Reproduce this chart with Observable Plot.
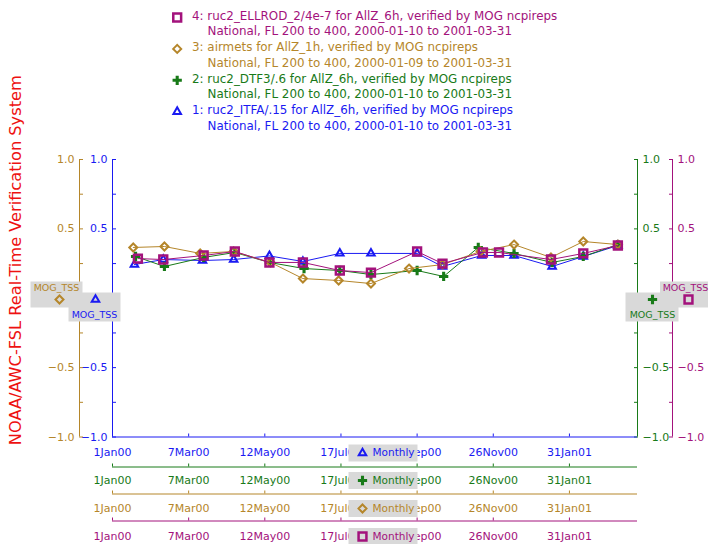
<!DOCTYPE html>
<html>
<head>
<meta charset="utf-8">
<script src="https://cdn.jsdelivr.net/npm/d3@7"></script>
<script src="https://cdn.jsdelivr.net/npm/@observablehq/plot@0.6"></script>
<style>
  html, body { margin: 0; padding: 0; background: #fff; }
  svg { display: block; }
</style>
</head>
<body>
<div id="chart"></div>
<script>
// Monthly MOG true skill statistic for four turbulence products, FL 200–400
const itfaDates = ["2000-01-20","2000-02-14","2000-03-19","2000-04-15","2000-05-16","2000-06-14","2000-07-16","2000-08-12","2000-09-21","2000-10-13","2000-11-16","2000-12-14","2001-01-16","2001-02-12","2001-03-14"];
const itfaTss   = [0.243,0.279,0.272,0.279,0.305,0.265,0.323,0.323,0.323,0.229,0.308,0.308,0.229,0.301,0.380];

const dtfDates  = ["2000-01-21","2000-02-15","2000-03-20","2000-04-16","2000-05-16","2000-06-15","2000-07-16","2000-08-12","2000-09-21","2000-10-14","2000-11-13","2000-12-14","2001-01-16","2001-02-12","2001-03-14"];
const dtfTss    = [0.301,0.229,0.294,0.330,0.258,0.214,0.200,0.171,0.200,0.157,0.366,0.323,0.258,0.301,0.387];

const airmetDates = ["2000-01-19","2000-02-15","2000-03-17","2000-04-15","2000-05-17","2000-06-14","2000-07-15","2000-08-12","2000-09-14","2000-10-13","2000-11-15","2000-12-14","2001-01-15","2001-02-12","2001-03-14"];
const airmetTss   = [0.366,0.373,0.323,0.337,0.258,0.142,0.128,0.106,0.214,0.243,0.337,0.387,0.294,0.409,0.387];

const ellrodDates = ["2000-01-23","2000-02-14","2000-03-20","2000-04-16","2000-05-16","2000-06-14","2000-07-16","2000-08-12","2000-09-21","2000-10-13","2000-11-17","2000-12-01","2001-01-15","2001-02-12","2001-03-14"];
const ellrodTss   = [0.286,0.279,0.308,0.337,0.258,0.258,0.200,0.185,0.337,0.250,0.330,0.330,0.279,0.323,0.380];

const seriesTitles = [
  "1: ruc2_ITFA/.15 for AllZ_6h, verified by MOG ncpireps",
  "2: ruc2_DTF3/.6 for AllZ_6h, verified by MOG ncpireps",
  "3: airmets for AllZ_1h, verified by MOG ncpireps",
  "4: ruc2_ELLROD_2/4e-7 for AllZ_6h, verified by MOG ncpireps"
];
const seriesSubtitles = [
  "National, FL 200 to 400, 2000-01-10 to 2001-03-31",
  "National, FL 200 to 400, 2000-01-10 to 2001-03-31",
  "National, FL 200 to 400, 2000-01-09 to 2001-03-31",
  "National, FL 200 to 400, 2000-01-10 to 2001-03-31"
];
const xTickDates = ["2000-01-01","2000-03-07","2000-05-12","2000-07-17","2000-09-21","2000-11-26","2001-01-31"];
const xDomainDates = ["2000-01-01","2001-03-31"];
const yTickValues = [-1, -0.75, -0.5, -0.25, 0, 0.25, 0.5, 0.75, 1];
const yLabelledValues = [-1, -0.5, 0.5, 1];
const statLabel = "MOG_TSS";
const periodLabel = "Monthly";
const sideTitle = "NOAA/AWC-FSL Real-Time Verification System";

// ---- styling ----
const parse = d3.utcParse("%Y-%m-%d");
const BLUE = "#1a1af2", GREEN = "#187a18", BROWN = "#b5862a", MAGENTA = "#a3127c", RED = "#ee1111";
const BOX = "#d9d9d9";
const FONT = "DejaVu Sans";

// a plain rectangle used for the grey label boxes
const boxSymbol = (w, h) => ({draw(ctx) { ctx.rect(-w / 2, -h / 2, w, h); }});

const series = [
  {dates: itfaDates,   values: itfaTss,   color: BLUE,    symbol: "triangle2", r: 3.6, filled: false, sw: 2},
  {dates: dtfDates,    values: dtfTss,    color: GREEN,   symbol: "cross",     r: 3.9, filled: true,  sw: 0},
  {dates: airmetDates, values: airmetTss, color: BROWN,   symbol: "diamond2",  r: 3.6, filled: false, sw: 2},
  {dates: ellrodDates, values: ellrodTss, color: MAGENTA, symbol: "square2",   r: 5.0, filled: false, sw: 2.5}
];
series.forEach((s, i) => {
  s.rows = s.dates.map((d, j) => ({date: parse(d), tss: s.values[j]}));
  s.title = seriesTitles[i];
  s.subtitle = seriesSubtitles[i];
});

const dotStyle = s => s.filled
  ? {fill: s.color, stroke: "none", symbol: s.symbol, r: s.r}
  : {fill: "none", stroke: s.color, strokeWidth: s.sw, symbol: s.symbol, r: s.r};

const yFmt = d3.format(".1f");
const yLabel = v => yLabelledValues.includes(v) ? yFmt(v) : "";
const xFmt = d3.utcFormat("%-d%b%y");
const xTicks = xTickDates.map(parse);
const xDomain = xDomainDates.map(parse);

const marks = [];

// ---- value axes: two on the left (ITFA, airmets), two on the right (DTF3, ELLROD) ----
const yAxes = [
  {s: series[0], anchor: "left",  dx: 0},
  {s: series[2], anchor: "left",  dx: -33},
  {s: series[1], anchor: "right", dx: 0},
  {s: series[3], anchor: "right", dx: 35}
];
for (const a of yAxes) {
  marks.push(Plot.ruleX([xDomain[a.anchor === "left" ? 0 : 1]], {stroke: a.s.color, dx: a.dx}));
  marks.push(Plot.axisY({
    anchor: a.anchor, ticks: yTickValues, tickFormat: yLabel, tickSize: -4, tickPadding: 9,
    color: a.s.color, dx: a.dx, fontSize: 11, label: null
  }));
}

// ---- time axes, one per series, stacked below the frame ----
const xAxisOffsets = [0, 30, 57, 84];
const xLabelGaps = [16, 13.5, 14.5, 15.5];
series.forEach((s, i) => {
  const dy = xAxisOffsets[i];
  const gap = xLabelGaps[i];
  marks.push(Plot.ruleY([-1], {stroke: s.color, dy}));
  marks.push(Plot.axisX({
    anchor: "bottom", ticks: xTicks, tickFormat: xFmt, tickSize: -3, tickPadding: gap - 1.5,
    color: s.color, dy, fontSize: 11, label: null
  }));
  // "Monthly" period tag sitting on each time axis
  marks.push(Plot.dot([0], {frameAnchor: "bottom", dx: 8, dy: dy + gap, symbol: boxSymbol(69, 17), fill: BOX}));
  marks.push(Plot.dot([0], {frameAnchor: "bottom", dx: -12.5, dy: dy + gap, ...dotStyle(s)}));
  marks.push(Plot.text([periodLabel], {frameAnchor: "bottom", dx: -2.5, dy: dy + gap, text: d => d,
    textAnchor: "start", lineAnchor: "middle", fill: s.color, fontSize: 10.5}));
});

// ---- series lines and markers ----
for (const s of series) {
  marks.push(Plot.line(s.rows, {x: "date", y: "tss", stroke: s.color, strokeWidth: 1}));
  marks.push(Plot.dot(s.rows, {x: "date", y: "tss", ...dotStyle(s)}));
}

// ---- statistic tags at zero on each value axis ----
const statTags = [
  {s: series[2], side: "left",  box: [-56, -3.75, 52, 26], mark: [-53, 1.25], text: [-56, -10.75]},
  {s: series[0], side: "left",  box: [-18, 8.75, 52, 29],  mark: [-17, 1.25], text: [-18, 16.25]},
  {s: series[1], side: "right", box: [14.5, 8.75, 53, 29], mark: [15, 1.25],  text: [15, 16.25]},
  {s: series[3], side: "right", box: [46.5, -3.75, 48, 26], mark: [51, 1.25], text: [48, -10.75]}
];
for (const t of statTags) {
  const base = {y: () => 0, frameAnchor: t.side};
  marks.push(Plot.dot([0], {...base, dx: t.box[0], dy: t.box[1], symbol: boxSymbol(t.box[2], t.box[3]), fill: BOX}));
  marks.push(Plot.dot([0], {...base, dx: t.mark[0], dy: t.mark[1], ...dotStyle(t.s)}));
  marks.push(Plot.text([statLabel], {...base, dx: t.text[0], dy: t.text[1], text: d => d,
    textAnchor: "middle", lineAnchor: "middle", fill: t.s.color, fontSize: 9.5}));
}

// ---- legend above the frame, newest product first ----
[3, 2, 1, 0].forEach((idx, k) => {
  const s = series[idx];
  const y1 = -143.5 + k * 31.4;
  marks.push(Plot.dot([0], {frameAnchor: "top-left", dx: 64.7, dy: y1 + 1.5, ...dotStyle(s)}));
  marks.push(Plot.text([s.title], {frameAnchor: "top-left", dx: 79.5, dy: y1, text: d => d,
    textAnchor: "start", lineAnchor: "middle", fill: s.color, fontSize: 11.9}));
  marks.push(Plot.text([s.subtitle], {frameAnchor: "top-left", dx: 95, dy: y1 + 15.6, text: d => d,
    textAnchor: "start", lineAnchor: "middle", fill: s.color, fontSize: 11.9}));
});

// ---- rotated system title ----
marks.push(Plot.text([sideTitle], {frameAnchor: "left", dx: -97, dy: -38, text: d => d,
  rotate: -90, textAnchor: "middle", lineAnchor: "middle", fill: RED, fontSize: 16.2}));

const chart = Plot.plot({
  width: 712,
  height: 544,
  marginLeft: 112,
  marginRight: 75,
  marginTop: 159,
  marginBottom: 107.5,
  style: {fontFamily: FONT, fontSize: "11px", background: "#fff", overflow: "visible"},
  x: {type: "utc", domain: xDomain, axis: null},
  y: {domain: [-1, 1], axis: null},
  marks
});
document.getElementById("chart").append(chart);
</script>
</body>
</html>
